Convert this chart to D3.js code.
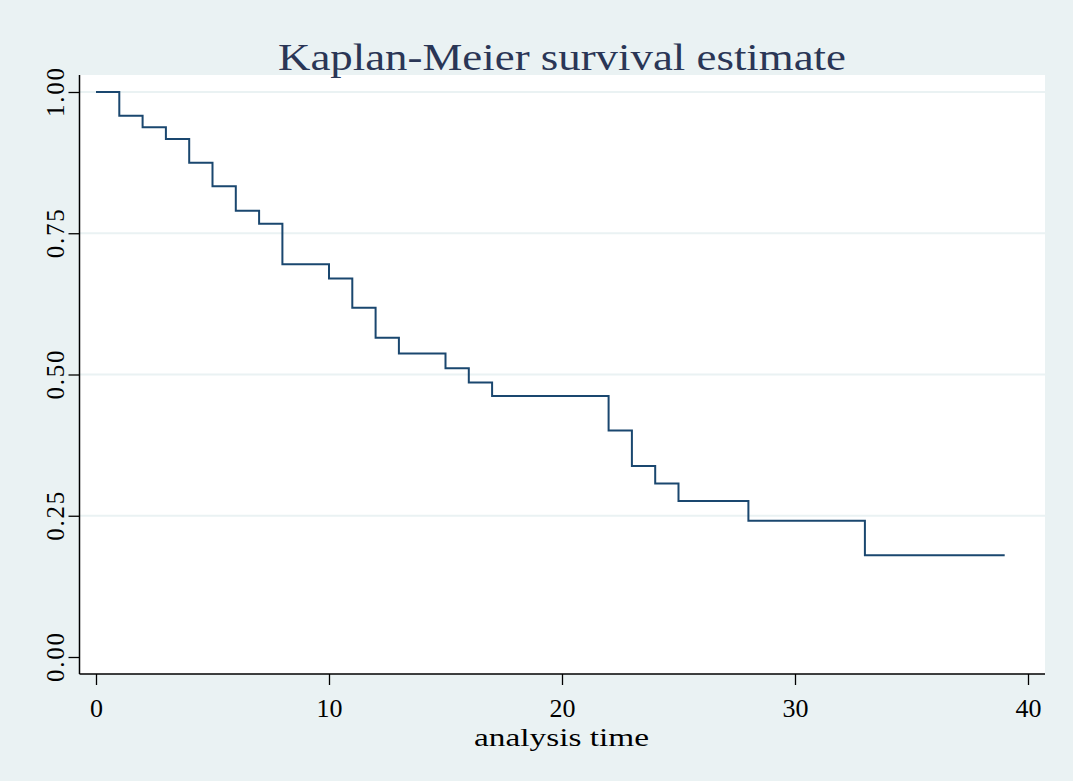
<!DOCTYPE html>
<html>
<head>
<meta charset="utf-8">
<script src="https://cdn.jsdelivr.net/npm/d3@7"></script>
<style>
  html, body { margin: 0; padding: 0; background: #EAF2F3; }
  svg { display: block; }
</style>
</head>
<body>
<svg id="chart" width="1073" height="781"></svg>
<script>
// ---- data ----
const stepTimes = [0, 1, 2, 3, 4, 5, 6, 7, 8, 10, 11, 12, 13, 15, 16, 17, 22, 23, 24, 25, 28, 33];
const survival  = [1.0, 0.958, 0.9375, 0.917, 0.875, 0.833, 0.790, 0.767, 0.695, 0.670, 0.618, 0.565, 0.537, 0.511, 0.486, 0.462, 0.401, 0.338, 0.307, 0.276, 0.241, 0.180];
const lastTime = 39;
const xTicks = [0, 10, 20, 30, 40];
const yTicks = [0, 0.25, 0.5, 0.75, 1.0];
const yTickLabels = ["0.00", "0.25", "0.50", "0.75", "1.00"];
const titleText = "Kaplan-Meier survival estimate";
const xTitleText = "analysis time";

// ---- layout ----
const svg = d3.select("#chart");
const W = 1073, H = 781;
const plot = { left: 79.5, right: 1045, top: 75, bottom: 674 };

svg.append("rect").attr("x", 0).attr("y", 0).attr("width", W).attr("height", H).attr("fill", "#EAF2F3");
svg.append("rect")
  .attr("x", plot.left).attr("y", plot.top)
  .attr("width", plot.right - plot.left).attr("height", plot.bottom - plot.top)
  .attr("fill", "#ffffff");

const x = d3.scaleLinear().domain([0, 40]).range([96, 1028]);
const y = d3.scaleLinear().domain([0, 1]).range([657, 92]);

const serif = "'Liberation Serif', 'DejaVu Serif', serif";

// gridlines
svg.append("g").selectAll("line")
  .data(yTicks.filter(d => d > 0))
  .join("line")
  .attr("x1", plot.left).attr("x2", plot.right)
  .attr("y1", d => y(d)).attr("y2", d => y(d))
  .attr("stroke", "#EAF2F3").attr("stroke-width", 2);

// survival step line
const pts = stepTimes.map((t, i) => [t, survival[i]]);
pts.push([lastTime, survival[survival.length - 1]]);
const line = d3.line().x(d => x(d[0])).y(d => y(d[1])).curve(d3.curveStepAfter);
svg.append("path")
  .datum(pts)
  .attr("d", line)
  .attr("fill", "none")
  .attr("stroke", "#1A476F")
  .attr("stroke-width", 2);

// x axis
const xAxis = d3.axisBottom(x).tickValues(xTicks).tickSize(11).tickPadding(6).tickFormat(d3.format("d"));
const gx = svg.append("g").attr("transform", `translate(0,${plot.bottom})`).call(xAxis);
gx.select(".domain").attr("d", `M${plot.left},0H${plot.right}`).attr("stroke", "#000").attr("stroke-width", 1.5);
gx.selectAll(".tick line").attr("stroke", "#000").attr("stroke-width", 1.3);
gx.selectAll(".tick text")
  .attr("font-family", serif).attr("font-size", 26).attr("fill", "#000")
  .attr("dy", null).attr("y", 43);

// y axis
const yAxis = d3.axisLeft(y).tickValues(yTicks).tickSize(11).tickFormat((d, i) => yTickLabels[i]);
const gy = svg.append("g").attr("transform", `translate(${plot.left},0)`).call(yAxis);
gy.select(".domain").attr("d", `M0,${plot.top}V${plot.bottom}`).attr("stroke", "#000").attr("stroke-width", 1.5);
gy.selectAll(".tick line").attr("stroke", "#000").attr("stroke-width", 1.3);
gy.selectAll(".tick text")
  .attr("font-family", serif).attr("font-size", 25).attr("fill", "#000")
  .attr("x", null).attr("dy", null)
  .attr("text-anchor", "middle")
  .attr("transform", "translate(-16,0) rotate(-90)")
  .attr("textLength", 49).attr("lengthAdjust", "spacing");

// title
svg.append("text")
  .attr("x", 562).attr("y", 70)
  .attr("text-anchor", "middle")
  .attr("font-family", serif).attr("font-size", 38)
  .attr("fill", "#2A3656")
  .attr("textLength", 568).attr("lengthAdjust", "spacingAndGlyphs")
  .text(titleText);

// x axis title
svg.append("text")
  .attr("x", 561.5).attr("y", 746)
  .attr("text-anchor", "middle")
  .attr("font-family", serif).attr("font-size", 26)
  .attr("fill", "#000")
  .attr("textLength", 175).attr("lengthAdjust", "spacingAndGlyphs")
  .text(xTitleText);
</script>
</body>
</html>
